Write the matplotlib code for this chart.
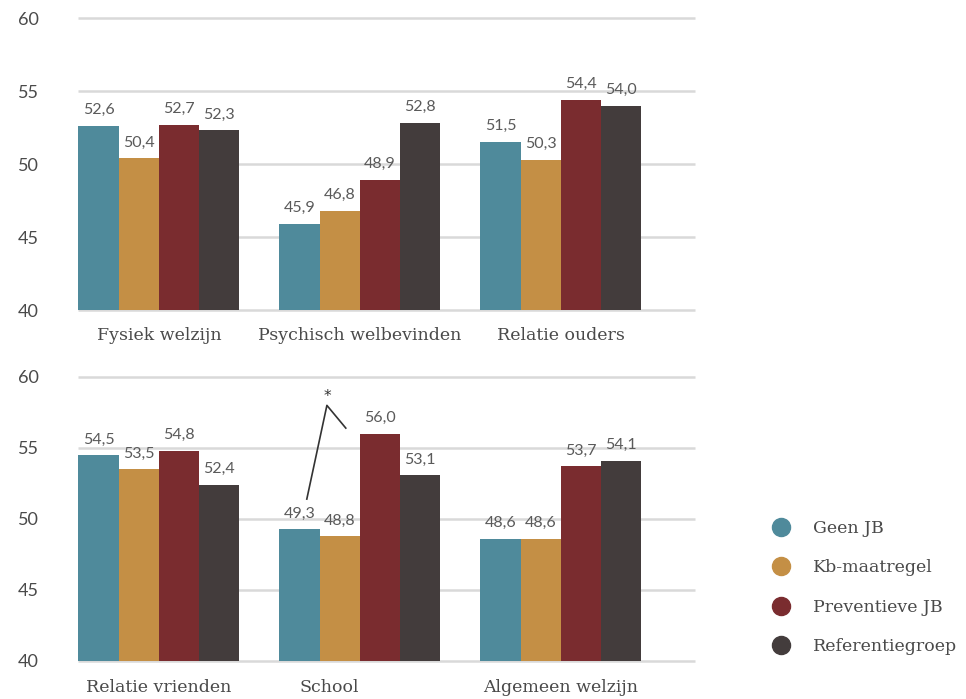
import matplotlib.pyplot as plt
from matplotlib.lines import Line2D
import numpy as np

series = ['Geen JB', 'Kb-maatregel', 'Preventieve JB', 'Referentiegroep']
colors = ['#4f8a9b', '#c48f45', '#7a2c2f', '#433c3c']

cats_top = ['Fysiek welzijn', 'Psychisch welbevinden', 'Relatie ouders']
vals_top = [[52.6, 45.9, 51.5],
            [50.4, 46.8, 50.3],
            [52.7, 48.9, 54.4],
            [52.3, 52.8, 54.0]]

cats_bot = ['Relatie vrienden', 'School', 'Algemeen welzijn']
vals_bot = [[54.5, 49.3, 48.6],
            [53.5, 48.8, 48.6],
            [54.8, 56.0, 53.7],
            [52.4, 53.1, 54.1]]

yticks = [40, 45, 50, 55, 60]

serif = 'DejaVu Serif'
sans = 'Lato'
txt = '#4a4a4a'

fig = plt.figure(figsize=(9.66, 6.99), dpi=100)
ax1 = fig.add_axes([0.0807, 0.5565, 0.6387, 0.4177])
ax2 = fig.add_axes([0.0807, 0.0544, 0.6387, 0.4063])

w = 0.2
def draw(ax, cats, vals, ylab, shift=None):
    x = np.arange(len(cats))
    for i, v in enumerate(vals):
        xs = x + (i - 1.5) * w
        ax.bar(xs, np.array(v) - 40, bottom=40, width=w, color=colors[i], zorder=3)
        for xi, vi in zip(xs, v):
            ax.text(xi, vi + 0.6, f'{vi:.1f}'.replace('.', ','), ha='center', va='bottom',
                    fontsize=11.5, color='#5a5a5a', family=sans)
    ax.hlines(yticks, -0.4025, 2.667, color='#d9d9d9', lw=1.8, zorder=1, clip_on=False)
    ax.set_xlim(-0.4025, 2.667)
    ax.set_ylim(40, 60)
    ax.set_yticks(yticks)
    ax.set_yticklabels([str(t) for t in yticks], family=sans, fontsize=13, color=txt)
    ax.tick_params(axis='y', length=0, pad=43)
    for lab in ax.get_yticklabels():
        lab.set_horizontalalignment('left')
    ax.set_xticks([])
    for i, c in enumerate(cats):
        dx = shift[i] if shift else 0
        ax.text(i + dx, ylab, c, ha='center', va='top', fontsize=12.5,
                family=serif, color=txt)
    for s in ax.spines.values():
        s.set_visible(False)

draw(ax1, cats_top, vals_top, 38.85)
draw(ax2, cats_bot, vals_bot, 38.75, shift=[0, -0.15, 0])

# significance marker between School bars
ax2.plot([0.736, 0.836, 0.93], [51.4, 58.0, 56.4], color='#333333', lw=1.2, zorder=4)
ax2.text(0.836, 58.1, '*', ha='center', va='bottom', fontsize=11, color='#333333')

handles = [Line2D([], [], marker='o', ls='', markersize=13, color=c) for c in colors]
fig.legend(handles, series, loc='upper left', bbox_to_anchor=(0.774, 0.279),
           frameon=False, prop={'family': serif, 'size': 12.5}, labelcolor=txt,
           labelspacing=1.3, handletextpad=0.85)

fig.savefig('out.png', dpi=100)
